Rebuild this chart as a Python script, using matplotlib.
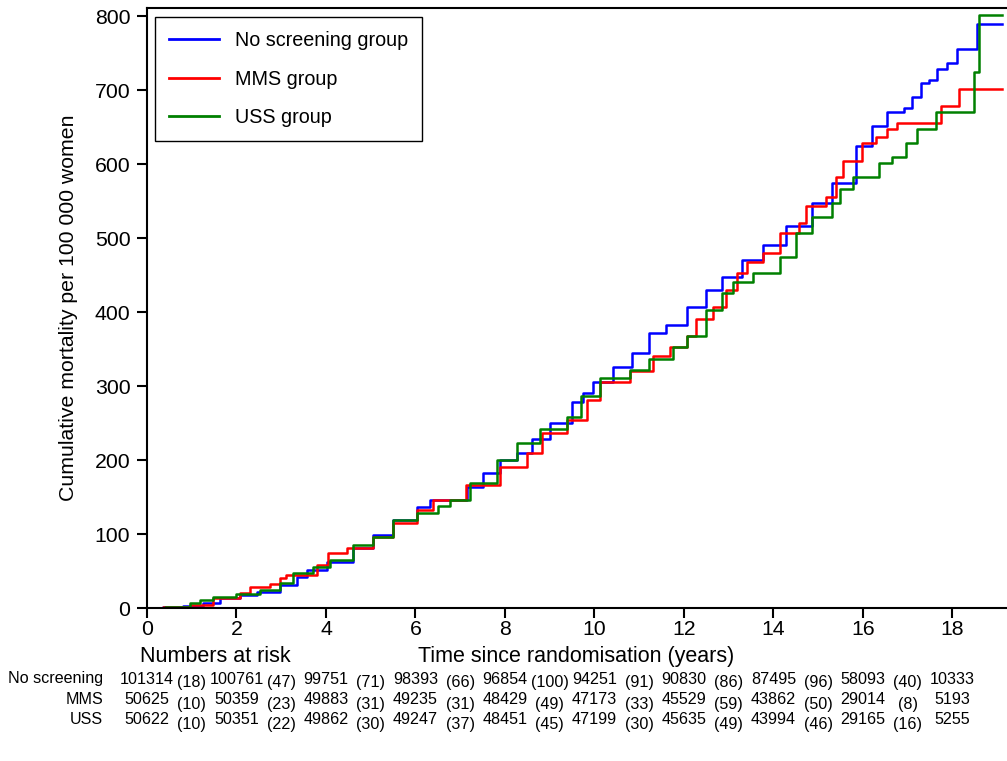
import matplotlib
matplotlib.use('Agg')
import matplotlib.pyplot as plt
from matplotlib.transforms import blended_transform_factory

plt.rcParams['font.family'] = ['Liberation Sans', 'DejaVu Sans']

# ---- curve data (time in years, cumulative mortality per 100 000) ----
no_t = [0.0, 0.36, 0.8, 1.25, 1.63, 2.08, 2.46, 2.97, 3.35, 3.57, 4.02, 4.6, 5.05, 5.49, 6.03,
        6.32, 7.15, 7.5, 7.88, 8.26, 8.6, 9.0, 9.51, 9.75, 9.96, 10.41, 10.85, 11.23, 11.61,
        12.06, 12.5, 12.86, 13.31, 13.76, 14.29, 14.87, 15.32, 15.85, 16.21, 16.53, 16.93,
        17.1, 17.3, 17.49, 17.66, 17.89, 18.1, 18.56, 19.1]
no_v = [0, 1, 3, 7, 14, 18, 22, 31, 42, 51, 62, 81, 99, 119, 137,
        146, 164, 182, 200, 210, 228, 250, 279, 290, 306, 326, 345, 372, 383,
        407, 430, 447, 471, 491, 516, 548, 575, 624, 651, 670, 676,
        691, 710, 714, 728, 737, 756, 789, 789]

mms_t = [0.0, 0.36, 0.96, 1.47, 2.08, 2.3, 2.75, 2.97, 3.1, 3.8, 4.04, 4.47, 5.05, 5.49, 6.03,
         6.4, 7.14, 7.88, 8.49, 8.84, 9.38, 9.83, 10.12, 10.79, 11.3, 11.68, 12.06, 12.28,
         12.64, 12.95, 13.18, 13.4, 13.76, 14.14, 14.58, 14.74, 15.18, 15.41, 15.55, 15.99,
         16.3, 16.55, 16.77, 17.75, 18.16, 19.1]
mms_v = [0, 1, 4, 14, 20, 29, 33, 40, 45, 58, 74, 81, 96, 115, 133,
         146, 166, 191, 210, 237, 254, 281, 305, 320, 340, 353, 367, 390,
         407, 430, 453, 468, 480, 507, 521, 543, 556, 583, 604, 629,
         637, 647, 656, 679, 702, 702]

uss_t = [0.0, 0.4, 0.96, 1.18, 1.47, 2.0, 2.52, 2.97, 3.26, 3.71, 4.09, 4.6, 5.05, 5.49, 6.03,
         6.5, 6.77, 7.21, 7.82, 8.26, 8.78, 9.38, 9.71, 10.12, 10.79, 11.23, 11.75, 12.06,
         12.5, 12.86, 13.09, 13.54, 14.14, 14.51, 14.87, 15.32, 15.48, 15.77, 16.37, 16.66,
         16.97, 17.2, 17.64, 18.49, 18.6, 19.1]
uss_v = [0, 1, 7, 11, 15, 19, 24, 34, 47, 56, 65, 85, 96, 119, 129,
         138, 146, 169, 200, 223, 242, 258, 286, 311, 322, 336, 353, 367,
         403, 426, 441, 453, 475, 507, 529, 548, 566, 583, 602, 610,
         629, 647, 671, 724, 801, 801]

# ---- numbers at risk table ----
risk_years = [0, 2, 4, 6, 8, 10, 12, 14, 16, 18]
no_risk = [101314, 100761, 99751, 98393, 96854, 94251, 90830, 87495, 58093, 10333]
no_events = [18, 47, 71, 66, 100, 91, 86, 96, 40]
mms_risk = [50625, 50359, 49883, 49235, 48429, 47173, 45529, 43862, 29014, 5193]
mms_events = [10, 23, 31, 31, 49, 33, 59, 50, 8]
uss_risk = [50622, 50351, 49862, 49247, 48451, 47199, 45635, 43994, 29165, 5255]
uss_events = [10, 22, 30, 37, 45, 30, 49, 46, 16]
row_labels = ['No screening', 'MMS', 'USS']

W, H = 1007, 761
fig = plt.figure(figsize=(W / 100, H / 100), dpi=100)
ax = fig.add_axes([147 / W, 1 - 608 / H, (1006 - 147) / W, 600 / H])

ax.step(no_t, no_v, where='post', color='#0000ff', lw=1.8, label='No screening group')
ax.step(mms_t, mms_v, where='post', color='#ff0000', lw=1.8, label='MMS group')
ax.step(uss_t, uss_v, where='post', color='#008000', lw=1.8, label='USS group')

ax.set_xlim(0, 19.2)
ax.set_ylim(0, 811)
ax.set_xticks(range(0, 19, 2))
ax.set_yticks(range(0, 801, 100))
ax.tick_params(direction='out', length=7, width=1.5, labelsize=15.3)
ax.tick_params(axis='y', pad=5)
ax.tick_params(axis='x', pad=1.5)
ax.spines['right'].set_visible(False)
for s in ['left', 'bottom', 'top']:
    ax.spines[s].set_linewidth(1.5)

ax.set_xlabel('Time since randomisation (years)', fontsize=15.5)
ax.xaxis.set_label_coords(0.5, -(646 - 608) / 600)
ax.set_ylabel('Cumulative mortality per 100 000 women', fontsize=15.3)
ax.yaxis.set_label_coords(-(147 - 78) / 859, 0.5)

leg = ax.legend(loc='upper left', bbox_to_anchor=(8 / 859, 1 - 9 / 600), fontsize=14.2,
                frameon=True, fancybox=False, framealpha=1, edgecolor='black',
                handlelength=2.55, handletextpad=0.8, labelspacing=1.0,
                borderpad=0.7, borderaxespad=0)
leg.get_frame().set_linewidth(1.0)
for line in leg.get_lines():
    line.set_linewidth(2.0)

tr = blended_transform_factory(ax.transData, fig.transFigure)
fig.text(215 / W, 1 - 657 / H, 'Numbers at risk', fontsize=15.5, ha='center', va='center')

rows = [(no_risk, no_events), (mms_risk, mms_events), (uss_risk, uss_events)]
row_y = [679, 700, 720]
for (risk, ev), lab, yp in zip(rows, row_labels, row_y):
    fig.text(103 / W, 1 - yp / H, lab, fontsize=11.6, ha='right', va='center')
    for yr, n in zip(risk_years, risk):
        ax.text(yr, 1 - yp / H, str(n), fontsize=11.6, ha='center', va='center', transform=tr)
    for i, e in enumerate(ev):
        xm = (risk_years[i] + risk_years[i + 1]) / 2
        ax.text(xm, 1 - (yp + 4) / H, '(%d)' % e, fontsize=11.6, ha='center', va='center',
                transform=tr)

fig.savefig('out.png', dpi=100)
